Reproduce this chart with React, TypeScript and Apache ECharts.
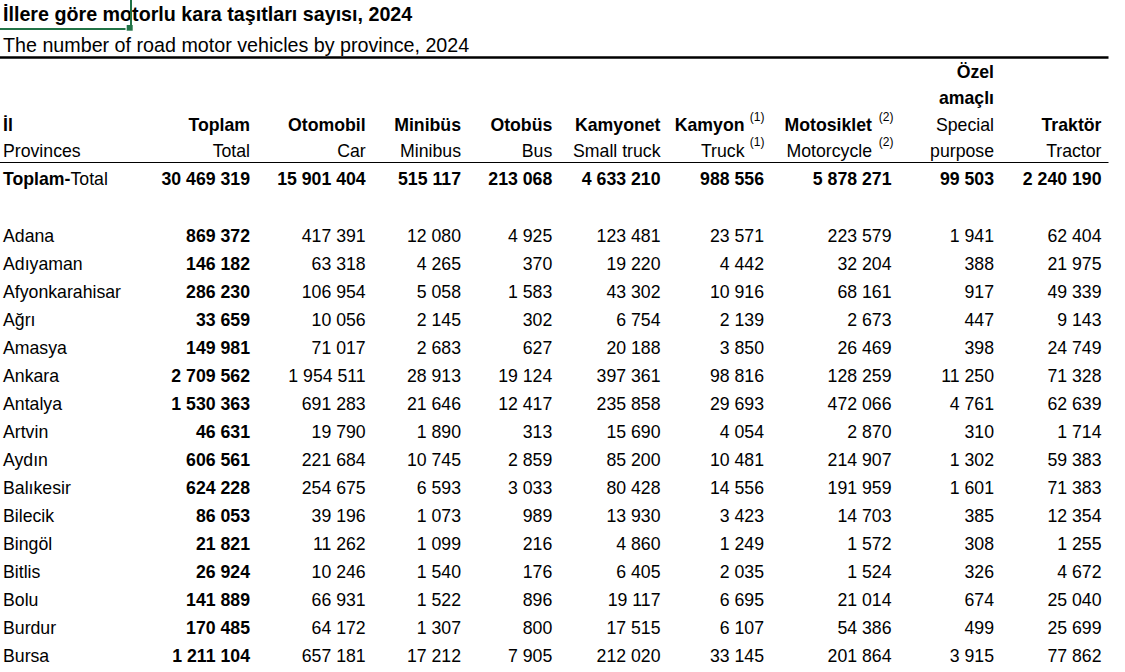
import React, { useEffect, useRef } from "react";
import * as echarts from "echarts";

// ---------- data ----------
const titleTr = "İllere göre motorlu kara taşıtları sayısı, 2024";
const titleEn = "The number of road motor vehicles by province, 2024";

const headerTr = ["Toplam", "Otomobil", "Minibüs", "Otobüs", "Kamyonet", "Kamyon", "Motosiklet", "Özel amaçlı", "Traktör"];
const headerEn = ["Total", "Car", "Minibus", "Bus", "Small truck", "Truck", "Motorcycle", "Special purpose", "Tractor"];
const headerNotes = ["", "", "", "", "", "(1)", "(2)", "", ""];
const headerWrapped = [false, false, false, false, false, false, false, true, false];

const provinces = [
  "Adana", "Adıyaman", "Afyonkarahisar", "Ağrı", "Amasya", "Ankara", "Antalya", "Artvin",
  "Aydın", "Balıkesir", "Bilecik", "Bingöl", "Bitlis", "Bolu", "Burdur", "Bursa",
];

const columnTotals = [30469319, 15901404, 515117, 213068, 4633210, 988556, 5878271, 99503, 2240190];

const toplam = [869372, 146182, 286230, 33659, 149981, 2709562, 1530363, 46631, 606561, 624228, 86053, 21821, 26924, 141889, 170485, 1211104];
const otomobil = [417391, 63318, 106954, 10056, 71017, 1954511, 691283, 19790, 221684, 254675, 39196, 11262, 10246, 66931, 64172, 657181];
const minibus = [12080, 4265, 5058, 2145, 2683, 28913, 21646, 1890, 10745, 6593, 1073, 1099, 1540, 1522, 1307, 17212];
const otobus = [4925, 370, 1583, 302, 627, 19124, 12417, 313, 2859, 3033, 989, 216, 176, 896, 800, 7905];
const kamyonet = [123481, 19220, 43302, 6754, 20188, 397361, 235858, 15690, 85200, 80428, 13930, 4860, 6405, 19117, 17515, 212020];
const kamyon = [23571, 4442, 10916, 2139, 3850, 98816, 29693, 4054, 10481, 14556, 3423, 1249, 2035, 6695, 6107, 33145];
const motosiklet = [223579, 32204, 68161, 2673, 26469, 128259, 472066, 2870, 214907, 191959, 14703, 1572, 1524, 21014, 54386, 201864];
const ozelAmacli = [1941, 388, 917, 447, 398, 11250, 4761, 310, 1302, 1601, 385, 308, 326, 674, 499, 3915];
const traktor = [62404, 21975, 49339, 9143, 24749, 71328, 62639, 1714, 59383, 71383, 12354, 1255, 4672, 25040, 25699, 77862];

const columns = [toplam, otomobil, minibus, otobus, kamyonet, kamyon, motosiklet, ozelAmacli, traktor];

// ---------- layout ----------
const FONT = '"Liberation Sans", Arial, Helvetica, sans-serif';
const FS = 17.7;
const TITLE_FS = 19.7;
const SUP_FS = 12;
const LEFT = 3;
const colRight = [250, 365.7, 461, 552.3, 660.5, 764, 891.5, 994, 1101.5];
const supRight = [0, 0, 0, 0, 0, 764.5, 893.5, 0, 0];
const noteGap = 19.5;
const ROW_FIRST = 235.6;
const ROW_STEP = 28;
const TABLE_RIGHT = 1108.5;
const CURSOR = "#217346";

const fmt = (v: number) => String(v).replace(/\B(?=(\d{3})+(?!\d))/g, " ");

function txt(text: string, x: number, y: number, opts: { bold?: boolean; size?: number; align?: string } = {}) {
  const size = opts.size ?? FS;
  const align = opts.align ?? "left";
  return {
    type: "text",
    x,
    y,
    silent: true,
    style: {
      text,
      fill: "#000",
      font: `${opts.bold ? "bold " : ""}${size}px ${FONT}`,
      textAlign: align,
      align,
      textVerticalAlign: "middle",
      verticalAlign: "middle",
    },
  };
}

function buildElements() {
  const els: any[] = [];
  els.push({ type: "rect", shape: { x: 0, y: 0, width: 1125, height: 672 }, style: { fill: "#fff" }, silent: true });

  els.push(txt(titleTr, LEFT, 14.2, { bold: true, size: TITLE_FS }));
  els.push(txt(titleEn, LEFT, 44.9, { size: TITLE_FS }));

  // rules
  els.push({ type: "rect", shape: { x: 0, y: 56.2, width: TABLE_RIGHT, height: 2.6 }, style: { fill: "#000" }, silent: true });
  els.push({ type: "rect", shape: { x: 0, y: 162, width: TABLE_RIGHT, height: 1 }, style: { fill: "#000" }, silent: true });

  // header
  const H1 = 125.2;
  const H2 = 150.6;
  els.push(txt("İl", LEFT, H1, { bold: true }));
  els.push(txt("Provinces", LEFT, H2));
  headerTr.forEach((tr, c) => {
    const note = headerNotes[c];
    const r = note ? colRight[c] - noteGap : colRight[c];
    if (headerWrapped[c]) {
      const trParts = tr.split(" ");
      const enParts = headerEn[c].split(" ");
      els.push(txt(trParts[0], r, 72.2, { bold: true, align: "right" }));
      els.push(txt(trParts[1], r, 98.2, { bold: true, align: "right" }));
      els.push(txt(enParts[0], r, H1, { align: "right" }));
      els.push(txt(enParts[1], r, H2, { align: "right" }));
    } else {
      els.push(txt(tr, r, H1, { bold: true, align: "right" }));
      els.push(txt(headerEn[c], r, H2, { align: "right" }));
    }
    if (note) {
      els.push(txt(note, supRight[c], 116.5, { size: SUP_FS, align: "right" }));
      els.push(txt(note, supRight[c], 142.3, { size: SUP_FS, align: "right" }));
    }
  });

  // total row
  const TR = 179.4;
  els.push({
    type: "text",
    x: LEFT,
    y: TR,
    silent: true,
    style: {
      text: "{b|Toplam-}{r|Total}",
      fill: "#000",
      textAlign: "left",
      align: "left",
      textVerticalAlign: "middle",
      verticalAlign: "middle",
      rich: {
        b: { font: `bold ${FS}px ${FONT}`, fill: "#000" },
        r: { font: `${FS}px ${FONT}`, fill: "#000" },
      },
    },
  });
  columnTotals.forEach((v, c) => {
    els.push(txt(fmt(v), colRight[c], TR, { bold: true, align: "right" }));
  });

  // data rows
  provinces.forEach((p, i) => {
    const y = ROW_FIRST + i * ROW_STEP;
    els.push(txt(p, LEFT, y));
    columns.forEach((col, c) => {
      els.push(txt(fmt(col[i]), colRight[c], y, { bold: c === 0, align: "right" }));
    });
  });

  // Excel active-cell cursor
  els.push({ type: "rect", shape: { x: 130, y: 0, width: 2, height: 25 }, style: { fill: CURSOR }, silent: true });
  els.push({ type: "rect", shape: { x: 0, y: 28, width: 125.5, height: 2 }, style: { fill: CURSOR }, silent: true });
  els.push({ type: "rect", shape: { x: 126.7, y: 25, width: 6, height: 5.7 }, style: { fill: CURSOR }, silent: true });

  return els;
}

export default function App() {
  const ref = useRef<HTMLDivElement>(null);
  useEffect(() => {
    if (!ref.current) return;
    const chart = echarts.init(ref.current, undefined, { renderer: "svg" });
    chart.setOption({
      animation: false,
      backgroundColor: "#fff",
      graphic: { elements: buildElements() },
    });
    return () => chart.dispose();
  }, []);
  return (
    <div
      ref={ref}
      style={{ position: "fixed", left: 0, top: 0, width: 1125, height: 672, background: "#fff" }}
    />
  );
}
